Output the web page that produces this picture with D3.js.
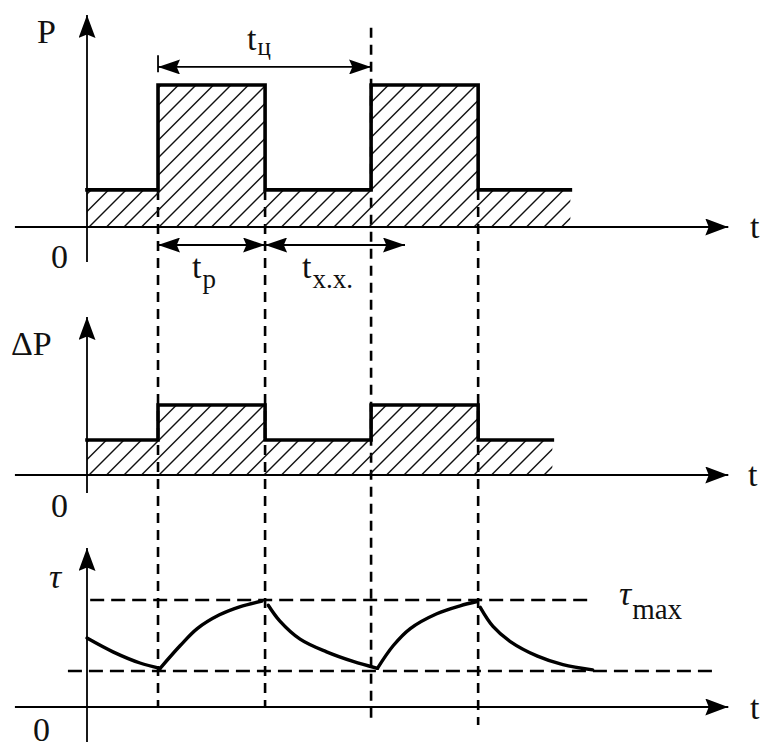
<!DOCTYPE html>
<html>
<head>
<meta charset="utf-8">
<script src="https://cdn.jsdelivr.net/npm/d3@7"></script>
<style>
  html, body { margin: 0; padding: 0; background: #fff; }
  svg { display: block; }
</style>
</head>
<body>
<svg id="chart" width="767" height="747"></svg>
<script>
// Switching instants of the duty cycle (time units)
const switchT = [0, 6.7, 16.8, 26.8, 36.9];

// Load power P: step levels between the switching instants
const powerT = [0, 6.7, 16.8, 26.8, 36.9, 45.6];
const powerV = [3.5, 13.4, 3.5, 13.4, 3.5, 3.5];

// Losses ΔP
const lossT = [0, 6.7, 16.8, 26.8, 36.9, 43.9];
const lossV = [3.3, 6.6, 3.3, 6.6, 3.3, 3.3];

// Temperature rise τ: cooling / heating branches
const tempSegments = [
  { t: [0, 2.45, 5.0, 6.9],                  v: [6.5, 5.2, 4.15, 3.65] },
  { t: [6.9, 8.8, 10.4, 12.5, 14.4, 16.5],   v: [3.65, 5.8, 7.4, 8.7, 9.45, 10.0] },
  { t: [17.1, 18.2, 20.1, 22.6, 25.1, 27.4], v: [9.6, 8.1, 6.4, 5.2, 4.3, 3.65] },
  { t: [27.4, 28.9, 30.5, 33.0, 35.2, 36.8], v: [3.65, 5.8, 7.4, 8.8, 9.55, 9.95] },
  { t: [37.1, 38.3, 39.9, 42.5, 44.9, 47.7], v: [9.4, 7.6, 6.2, 4.8, 4.0, 3.5] }
];
const tauMax = 10.1;
const tauMin = 3.4;

// Time intervals marked with dimension arrows
const cycleSpan = [6.7, 26.8];   // t_ц
const workSpan  = [6.7, 16.8];   // t_p
const idleSpan  = [16.8, 30.0];  // t_x.x.

const FONT = "serif";

const svg = d3.select("#chart");

// Scales
const x  = d3.scaleLinear().domain([0, 60]).range([87, 723]);
const yP = d3.scaleLinear().domain([0, 20]).range([227, 15]);
const yD = d3.scaleLinear().domain([0, 15]).range([475, 316]);
const yT = d3.scaleLinear().domain([0, 15]).range([707, 548]);

// Arrowheads
const defs = svg.append("defs");
function marker(id, len, wid) {
  defs.append("marker")
    .attr("id", id)
    .attr("markerUnits", "userSpaceOnUse")
    .attr("markerWidth", len).attr("markerHeight", wid)
    .attr("viewBox", `0 0 ${len} ${wid}`)
    .attr("refX", len).attr("refY", wid / 2)
    .attr("orient", "auto-start-reverse")
    .append("path")
    .attr("d", `M0,0 L${len},${wid / 2} L0,${wid} L${len * 0.15},${wid / 2} Z`)
    .attr("fill", "#000");
}
marker("axisArrow", 23, 17);
marker("dimArrow", 22, 15);

// Axes drawn as arrowed lines (no ticks)
function axes(yScale, yTop, yBottom) {
  const g = svg.append("g").attr("stroke", "#000").attr("stroke-width", 1.8);
  g.append("line")
    .attr("x1", x(-6.8)).attr("x2", x(60.5))
    .attr("y1", yScale(0)).attr("y2", yScale(0))
    .attr("marker-end", "url(#axisArrow)");
  g.append("line")
    .attr("x1", x(0)).attr("x2", x(0))
    .attr("y1", yScale(yBottom)).attr("y2", yScale(yTop))
    .attr("marker-end", "url(#axisArrow)");
}

// Hatched step area with thick outline
function stepPanel(id, ts, vs, yScale, hatchStep) {
  const pts = ts.map((t, i) => [t, vs[i]]);
  const area = d3.area().curve(d3.curveStepAfter)
    .x(d => x(d[0])).y0(yScale(0)).y1(d => yScale(d[1]));
  const line = d3.line().curve(d3.curveStepAfter)
    .x(d => x(d[0])).y(d => yScale(d[1]));

  defs.append("clipPath").attr("id", id).append("path").attr("d", area(pts));

  const x0 = x(ts[0]), x1 = x(ts[ts.length - 1]);
  const base = yScale(0);
  const H = base - yScale(d3.max(vs));
  const starts = d3.range(x0 - Math.ceil(H / hatchStep) * hatchStep, x1 + hatchStep, hatchStep);
  svg.append("g").attr("clip-path", `url(#${id})`)
    .selectAll("line").data(starts).join("line")
    .attr("x1", d => d).attr("y1", base + 2)
    .attr("x2", d => d + H + 4).attr("y2", base - H - 2)
    .attr("stroke", "#111").attr("stroke-width", 1.4);

  svg.append("path").attr("d", line(pts))
    .attr("fill", "none").attr("stroke", "#000")
    .attr("stroke-width", 3.6).attr("stroke-linejoin", "miter")
    .attr("stroke-linecap", "square");
}

// Vertical dashed guides at the switching instants
const guides = [
  { t: switchT[1], top: yP(powerV[0]), bottom: yT(0) },
  { t: switchT[2], top: yP(powerV[0]), bottom: yT(0) },
  { t: switchT[3], top: yP(18.8),      bottom: yT(-1.5) },
  { t: switchT[4], top: yP(powerV[0]), bottom: yT(-1.7) }
];
svg.append("g").selectAll("line").data(guides).join("line")
  .attr("x1", d => x(d.t)).attr("x2", d => x(d.t))
  .attr("y1", d => d.top).attr("y2", d => d.bottom)
  .attr("stroke", "#000").attr("stroke-width", 2.6)
  .attr("stroke-dasharray", "10,7");

// Panels
stepPanel("clipP", powerT, powerV, yP, 17.5);
stepPanel("clipD", lossT, lossV, yD, 17.5);

axes(yP, 20, -3.3);
axes(yD, 14.9, -1.7);
axes(yT, 15, -3.3);

// τ reference levels
svg.append("line")
  .attr("x1", x(0.3)).attr("x2", x(47.2))
  .attr("y1", yT(tauMax)).attr("y2", yT(tauMax))
  .attr("stroke", "#000").attr("stroke-width", 2.4).attr("stroke-dasharray", "14,7");
svg.append("line")
  .attr("x1", x(-1.8)).attr("x2", x(59))
  .attr("y1", yT(tauMin)).attr("y2", yT(tauMin))
  .attr("stroke", "#000").attr("stroke-width", 2.4).attr("stroke-dasharray", "14,7");

// Temperature curve branches
const tempLine = d3.line().curve(d3.curveCatmullRom.alpha(0.5))
  .x(d => x(d[0])).y(d => yT(d[1]));
svg.append("g").selectAll("path").data(tempSegments).join("path")
  .attr("d", s => tempLine(s.t.map((t, i) => [t, s.v[i]])))
  .attr("fill", "none").attr("stroke", "#000").attr("stroke-width", 3.4)
  .attr("stroke-linecap", "round");

// Dimension arrows
function dim(span, yPix) {
  svg.append("line")
    .attr("x1", x(span[0])).attr("x2", x(span[1]))
    .attr("y1", yPix).attr("y2", yPix)
    .attr("stroke", "#000").attr("stroke-width", 1.8)
    .attr("marker-start", "url(#dimArrow)")
    .attr("marker-end", "url(#dimArrow)");
}
dim(cycleSpan, yP(15.1));
dim(workSpan, yP(-1.7));
dim(idleSpan, yP(-1.7));
// short extension tick at the start of t_ц
svg.append("line")
  .attr("x1", x(cycleSpan[0])).attr("x2", x(cycleSpan[0]))
  .attr("y1", yP(16.2)).attr("y2", yP(14.6))
  .attr("stroke", "#000").attr("stroke-width", 1.8);

// Labels: main symbol plus optional subscript, each its own text element
function label(px, py, main, sub, opts = {}) {
  const size = opts.size || 34;
  const t = svg.append("text")
    .attr("x", px).attr("y", py)
    .style("font-family", FONT)
    .style("font-size", size + "px")
    .style("font-style", opts.italic ? "italic" : "normal")
    .attr("fill", "#111")
    .text(main);
  if (sub) {
    const w = t.node().getComputedTextLength();
    svg.append("text")
      .attr("x", px + w + (opts.subGap || 1)).attr("y", py + (opts.subDy || 9))
      .style("font-family", FONT)
      .style("font-size", (opts.subSize || 27) + "px")
      .style("font-style", "normal")
      .attr("fill", "#111")
      .text(sub);
  }
}
label(37, 43, "P");
label(11, 355, "ΔP");
label(49, 588, "τ", null, { italic: true });
label(51, 268, "0");
label(51, 517, "0");
label(33, 741, "0");
label(750, 238, "t");
label(748, 486, "t");
label(750, 719, "t");
label(247, 50, "t", "ц", { subDy: 5, subSize: 25 });
label(192, 278, "t", "p", { subDy: 10 });
label(302, 278, "t", "x.x.", { subDy: 10 });
label(619, 605, "τ", "max", { italic: true, subDy: 14, subSize: 29, subGap: 0 });
</script>
</body>
</html>
